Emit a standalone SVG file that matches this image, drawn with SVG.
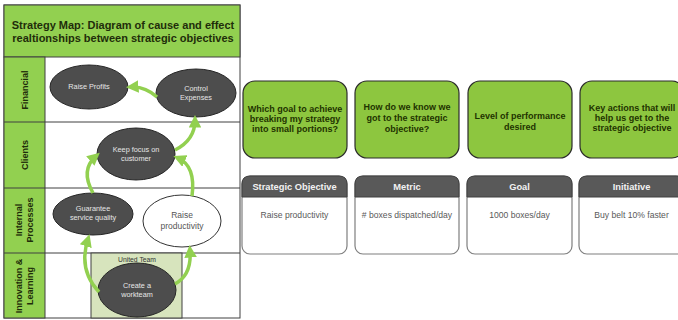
<svg xmlns="http://www.w3.org/2000/svg" width="678" height="320" viewBox="0 0 678 320">
<defs>
<marker id="ah" viewBox="0 0 10 10" refX="6" refY="5" markerWidth="3.6" markerHeight="3.6" orient="auto" markerUnits="strokeWidth">
<path d="M0,0 L10,5 L0,10 Z" fill="#92d050"/>
</marker>
</defs>
<style>
text{font-family:"Liberation Sans",Arial,sans-serif;}
.title{font-size:11px;font-weight:bold;fill:#1f2d0a;text-anchor:middle;}
.side{font-size:9px;font-weight:bold;fill:#1f2d0a;text-anchor:middle;}
.eld{fill:#4d4d4d;stroke:#262626;stroke-width:1;}
.elw{fill:#ffffff;stroke:#333333;stroke-width:1;}
.et{font-size:7.3px;fill:#e6e6e6;text-anchor:middle;}
.wt{font-size:8.5px;fill:#555555;text-anchor:middle;}
.arr{fill:none;stroke:#92d050;stroke-width:3.5;marker-end:url(#ah);}
.gcard{fill:#8dc63f;stroke:#2b2b2b;stroke-width:1.2;}
.gt{font-size:9px;font-weight:bold;fill:#1f3300;text-anchor:middle;}
.hdr{fill:#595959;stroke:#404040;stroke-width:1;}
.body{fill:#ffffff;stroke:#7f7f7f;stroke-width:1.2;}
.ht{font-size:9.3px;font-weight:bold;fill:#f2f2f2;text-anchor:middle;}
.bt{font-size:8.6px;fill:#595959;text-anchor:middle;}
.grid{fill:none;stroke:#404040;stroke-width:1;}
</style>
<rect width="678" height="320" fill="#ffffff"/>

<g id="panel">
<rect x="4" y="5" width="236" height="313" fill="#ffffff" stroke="#404040" stroke-width="1"/>
<rect x="4" y="5" width="236" height="52" fill="#92d050" stroke="#404040" stroke-width="1"/>
<rect x="4" y="57" width="41" height="261" fill="#92d050" stroke="#404040" stroke-width="1"/>
<line class="grid" x1="4" y1="122" x2="240" y2="122"/>
<line class="grid" x1="4" y1="188" x2="240" y2="188"/>
<line class="grid" x1="4" y1="253" x2="240" y2="253"/>
<text class="title" x="123" y="29">Strategy Map: Diagram of cause and effect</text>
<text class="title" x="123" y="42">realtionships between strategic objectives</text>
<text class="side" transform="translate(28,90) rotate(-90)">Financial</text>
<text class="side" transform="translate(28,155) rotate(-90)">Clients</text>
<text class="side" transform="translate(22,220) rotate(-90)">Internal</text>
<text class="side" transform="translate(33,220) rotate(-90)">Processes</text>
<text class="side" transform="translate(22,286) rotate(-90)">Innovation &amp;</text>
<text class="side" transform="translate(33,286) rotate(-90)">Learning</text>
</g>

<g id="united-team">
<rect x="91" y="253" width="91" height="65" fill="#d7e4bd" stroke="#404040" stroke-width="1"/>
<text x="137" y="262" font-size="6.8" fill="#333333" text-anchor="middle">United Team</text>
</g>

<g id="raise-profits">
<ellipse class="eld" cx="89" cy="87" rx="39" ry="22"/>
<text class="et" x="89" y="89">Raise Profits</text>
</g>
<g id="control-expenses">
<ellipse class="eld" cx="196" cy="93" rx="40" ry="24"/>
<text class="et" x="196" y="91">Control</text>
<text class="et" x="196" y="100">Expenses</text>
</g>
<g id="keep-focus">
<ellipse class="eld" cx="136" cy="154" rx="39" ry="26"/>
<text class="et" x="136" y="152">Keep focus on</text>
<text class="et" x="136" y="161">customer</text>
</g>
<g id="guarantee">
<ellipse class="eld" cx="93" cy="214" rx="40" ry="21"/>
<text class="et" x="93" y="211">Guarantee</text>
<text class="et" x="93" y="220">service quality</text>
</g>
<g id="raise-productivity">
<ellipse class="elw" cx="182" cy="221" rx="39" ry="26"/>
<text class="wt" x="182" y="218">Raise</text>
<text class="wt" x="182" y="229">productivity</text>
</g>
<g id="create-workteam">
<ellipse class="eld" cx="137" cy="290" rx="39" ry="27"/>
<text class="et" x="137" y="288">Create a</text>
<text class="et" x="137" y="297">workteam</text>
</g>

<g id="connectors">
<path class="arr" d="M157,97 Q145,86 131,87"/>
<path class="arr" d="M175,150 Q195,140 195,120"/>
<path class="arr" d="M192,196 Q196,166 178,158"/>
<path class="arr" d="M93,193 Q80,170 96,156"/>
<path class="arr" d="M99,292 Q78,270 88,239"/>
<path class="arr" d="M175,284 Q192,275 190,250"/>
</g>

<g id="q1">
<rect class="gcard" x="243" y="81" width="104" height="77" rx="12"/>
<text class="gt" x="295" y="112">Which goal to achieve</text>
<text class="gt" x="295" y="122">breaking my strategy</text>
<text class="gt" x="295" y="132">into small portions?</text>
</g>
<g id="q2">
<rect class="gcard" x="355" y="81" width="104" height="77" rx="12"/>
<text class="gt" x="407" y="110">How do we know we</text>
<text class="gt" x="407" y="121">got to the strategic</text>
<text class="gt" x="407" y="132">objective?</text>
</g>
<g id="q3">
<rect class="gcard" x="468" y="81" width="104" height="77" rx="12"/>
<text class="gt" x="520" y="119">Level of performance</text>
<text class="gt" x="520" y="130">desired</text>
</g>
<g id="q4">
<rect class="gcard" x="580" y="81" width="104" height="77" rx="12"/>
<text class="gt" x="632" y="111">Key actions that will</text>
<text class="gt" x="632" y="121">help us get to the</text>
<text class="gt" x="632" y="131">strategic objective</text>
</g>

<g id="strategic-objective">
<rect class="body" x="242" y="176" width="105" height="78" rx="8"/>
<path class="hdr" d="M242,197 V184 Q242,176 250,176 H339 Q347,176 347,184 V197 Z"/>
<text class="ht" x="294.5" y="190">Strategic Objective</text>
<text class="bt" x="294.5" y="218">Raise productivity</text>
</g>
<g id="metric">
<rect class="body" x="355" y="176" width="104" height="78" rx="8"/>
<path class="hdr" d="M355,197 V184 Q355,176 363,176 H451 Q459,176 459,184 V197 Z"/>
<text class="ht" x="407" y="190">Metric</text>
<text class="bt" x="407" y="218"># boxes dispatched/day</text>
</g>
<g id="goal">
<rect class="body" x="467" y="176" width="105" height="78" rx="8"/>
<path class="hdr" d="M467,197 V184 Q467,176 475,176 H564 Q572,176 572,184 V197 Z"/>
<text class="ht" x="519.5" y="190">Goal</text>
<text class="bt" x="519.5" y="218">1000 boxes/day</text>
</g>
<g id="initiative">
<rect class="body" x="579" y="176" width="105" height="78" rx="8"/>
<path class="hdr" d="M579,197 V184 Q579,176 587,176 H676 Q684,176 684,184 V197 Z"/>
<text class="ht" x="631.5" y="190">Initiative</text>
<text class="bt" x="631.5" y="218">Buy belt 10% faster</text>
</g>
</svg>
